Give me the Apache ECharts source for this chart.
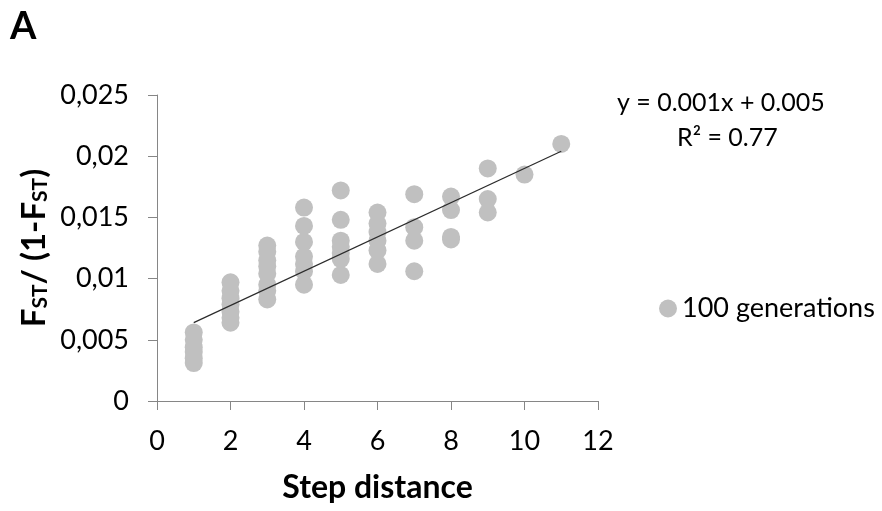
<!DOCTYPE html>
<html>
<head>
<meta charset="utf-8">
<script src="https://cdn.jsdelivr.net/npm/echarts@6/dist/echarts.min.js"></script>
<style>
  html, body { margin: 0; padding: 0; background: #fff; }
  #chart { width: 882px; height: 511px; }
</style>
</head>
<body>
<div id="chart"></div>
<script>
// Pairwise differentiation F_ST/(1-F_ST) against step distance, after 100 generations
const stepDistance = [
  1, 1, 1, 1, 1, 1,
  2, 2, 2, 2, 2, 2, 2,
  3, 3, 3, 3, 3, 3, 3, 3,
  4, 4, 4, 4, 4, 4, 4,
  5, 5, 5, 5, 5, 5, 5,
  6, 6, 6, 6, 6, 6,
  7, 7, 7, 7,
  8, 8, 8, 8,
  9, 9, 9,
  10,
  11
];
const fstRatio = [
  0.0056, 0.0050, 0.0044, 0.0040, 0.0035, 0.0031,
  0.0097, 0.0090, 0.0084, 0.0079, 0.0073, 0.0068, 0.0064,
  0.0127, 0.0122, 0.0115, 0.0110, 0.0104, 0.0095, 0.0090, 0.0083,
  0.0158, 0.0143, 0.0130, 0.0118, 0.0112, 0.0106, 0.0095,
  0.0172, 0.0148, 0.0131, 0.0126, 0.0121, 0.0116, 0.0103,
  0.0154, 0.0145, 0.0138, 0.0131, 0.0123, 0.0112,
  0.0169, 0.0142, 0.0131, 0.0106,
  0.0167, 0.0156, 0.0134, 0.0132,
  0.0190, 0.0165, 0.0154,
  0.0185,
  0.0210
];
// Linear trend line end points (step 1 to step 11)
const trendX = [1, 11];
const trendY = [0.0064, 0.0204];

const yTickLabels = ['0', '0,005', '0,01', '0,015', '0,02', '0,025'];
const xTickLabels = ['0', '2', '4', '6', '8', '10', '12'];
const seriesName = '100 generations';
const equationText = 'y = 0.001x + 0.005';
const rSquaredText = 'R\u00B2 = 0.77';

const points = stepDistance.map((x, i) => [x, fstRatio[i]]);
const trend = trendX.map((x, i) => [x, trendY[i]]);

const FONT = 'Lato';
const axisGray = '#868686';
const chart = echarts.init(document.getElementById('chart'));
chart.setOption({
  animation: false,
  backgroundColor: '#ffffff',
  textStyle: { fontFamily: FONT },
  grid: { left: 157, right: 284, top: 95, bottom: 110 },
  xAxis: {
    type: 'value',
    min: 0, max: 12, interval: 2,
    name: 'Step distance',
    nameLocation: 'middle',
    nameGap: 71,
    nameTextStyle: { fontFamily: FONT, fontWeight: 'bold', fontSize: 32, color: '#000' },
    axisLine: { lineStyle: { color: axisGray, width: 1 } },
    axisTick: { show: true, length: 9, lineStyle: { color: axisGray } },
    axisLabel: {
      margin: 27, fontSize: 27, color: '#000', fontFamily: FONT,
      formatter: v => xTickLabels[Math.round(v / 2)]
    },
    splitLine: { show: false }
  },
  yAxis: {
    type: 'value',
    min: 0, max: 0.025, interval: 0.005,
    name: '{b|F}{s|ST}{b|/ (1-F}{s|ST}{b|)}',
    nameLocation: 'middle',
    nameRotate: 90,
    nameGap: 106,
    nameTextStyle: {
      rich: {
        b: { fontFamily: FONT, fontWeight: 'bold', fontSize: 33, color: '#000', lineHeight: 38, verticalAlign: 'bottom' },
        s: { fontFamily: FONT, fontWeight: 'bold', fontSize: 21, color: '#000', lineHeight: 38, verticalAlign: 'bottom', padding: [14, 0, 0, 0] }
      }
    },
    axisLine: { show: true, lineStyle: { color: axisGray, width: 1 } },
    axisTick: { show: true, length: 9, lineStyle: { color: axisGray } },
    axisLabel: {
      margin: 28, fontSize: 27, color: '#000', fontFamily: FONT,
      formatter: v => yTickLabels[Math.round(v / 0.005)]
    },
    splitLine: { show: false }
  },
  legend: {
    data: [seriesName],
    left: 654, top: 290,
    orient: 'vertical',
    icon: 'circle',
    itemWidth: 18, itemHeight: 18, itemGap: 8,
    textStyle: { fontFamily: FONT, fontSize: 27, color: '#000' }
  },
  graphic: [
    { type: 'text', left: 10, top: 8, style: { text: 'A', font: 'bold 38px ' + FONT, fill: '#000' } },
    { type: 'text', left: 617, top: 90, style: { text: equationText, font: '25px ' + FONT, fill: '#000' } },
    { type: 'text', left: 677, top: 125, style: { text: rSquaredText, font: '25px ' + FONT, fill: '#000' } }
  ],
  series: [
    {
      name: seriesName,
      type: 'scatter',
      data: points,
      symbol: 'circle',
      symbolSize: 18,
      itemStyle: { color: '#c0c0c0', opacity: 1 },
      z: 2
    },
    {
      name: 'trend',
      type: 'line',
      data: trend,
      symbol: 'none',
      lineStyle: { color: '#2b2b2b', width: 1.2 },
      z: 3
    }
  ]
});
</script>
</body>
</html>
